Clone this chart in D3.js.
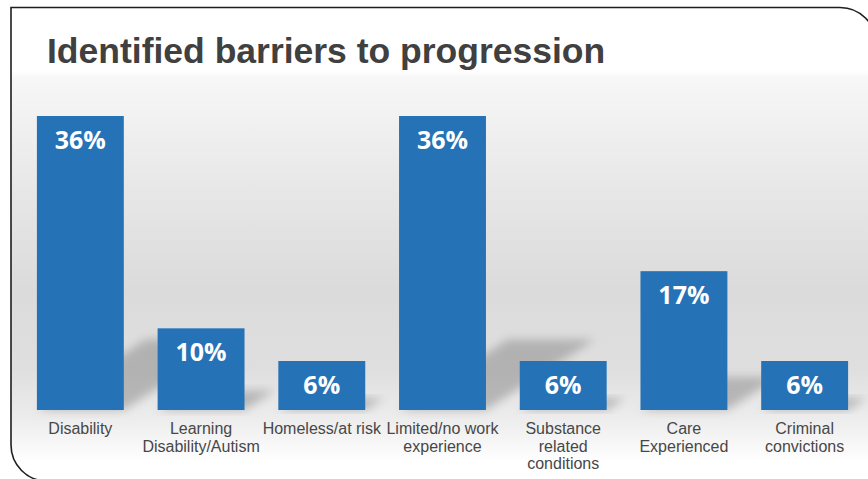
<!DOCTYPE html>
<html>
<head>
<meta charset="utf-8">
<script src="https://cdn.jsdelivr.net/npm/d3@7"></script>
<style>
  html, body { margin: 0; padding: 0; background: #fff; }
  svg { display: block; }
</style>
</head>
<body>
<svg id="chart" width="868" height="479"></svg>
<script>
// chart data
var titleText = "Identified barriers to progression";
var categories = [
  ["Disability"],
  ["Learning", "Disability/Autism"],
  ["Homeless/at risk"],
  ["Limited/no work", "experience"],
  ["Substance", "related", "conditions"],
  ["Care", "Experienced"],
  ["Criminal", "convictions"]
];
var values = [36, 10, 6, 36, 6, 17, 6];

var sansFont = "'Liberation Sans', Arial, sans-serif";

var svg = d3.select("#chart"),
  width = +svg.attr("width"),
  height = +svg.attr("height");

var defs = svg.append("defs");

var bg = defs.append("linearGradient")
  .attr("id", "bg-grad")
  .attr("gradientUnits", "userSpaceOnUse")
  .attr("x1", 0).attr("y1", 8).attr("x2", 0).attr("y2", 479);
[[8, "#ffffff"], [70, "#ffffff"], [78, "#f7f7f7"], [190, "#e7e7e7"],
 [290, "#dbdbdb"], [370, "#dfdfdf"], [420, "#ededed"], [462, "#ffffff"]]
  .forEach(function (s) {
    bg.append("stop")
      .attr("offset", ((s[0] - 8) / 471 * 100) + "%")
      .attr("stop-color", s[1]);
  });

defs.append("filter")
  .attr("id", "shadow-blur")
  .attr("x", "-30%").attr("y", "-30%").attr("width", "160%").attr("height", "160%")
  .append("feGaussianBlur")
  .attr("stdDeviation", 5);

// frame with two rounded corners (top right and bottom left)
var fx = 11, fy = 7.5, fr = 36, fxr = 876, fyb = 481;
var framePath = "M" + fx + "," + fy +
  " H" + (fxr - fr) +
  " A" + fr + "," + fr + " 0 0 1 " + fxr + "," + (fy + fr) +
  " V" + fyb +
  " H" + (fx + fr) +
  " A" + fr + "," + fr + " 0 0 1 " + fx + "," + (fyb - fr) + " Z";

svg.append("path")
  .attr("d", framePath)
  .attr("fill", "url(#bg-grad)");

var x = d3.scaleBand()
  .domain(d3.range(categories.length))
  .range([20, 865])
  .paddingInner(0.28)
  .paddingOuter(0.14);

var y = d3.scaleLinear()
  .domain([0, 36])
  .range([410, 116]);

var g = svg.append("g");

// soft cast shadows behind the bars
g.selectAll(".shadow")
  .data(values)
  .enter().append("path")
  .attr("class", "shadow")
  .attr("d", function (d, i) {
    var x0 = x(i), x1 = x(i) + x.bandwidth(), b = y(0), h = y(0) - y(d);
    var dx = h * 0.37, dy = h * 0.24;
    return "M" + x0 + "," + b + " L" + x1 + "," + b +
      " L" + (x1 + dx) + "," + (b - dy) + " L" + (x0 + dx) + "," + (b - dy) + " Z";
  })
  .attr("fill", "#8e8e8e")
  .attr("opacity", 0.55)
  .attr("filter", "url(#shadow-blur)");

g.selectAll(".bar")
  .data(values)
  .enter().append("rect")
  .attr("class", "bar")
  .attr("x", function (d, i) { return x(i); })
  .attr("y", function (d) { return y(d); })
  .attr("width", x.bandwidth())
  .attr("height", function (d) { return y(0) - y(d); })
  .attr("fill", "#2672b7");

g.selectAll(".value")
  .data(values)
  .enter().append("text")
  .attr("class", "value")
  .attr("x", function (d, i) { return x(i) + x.bandwidth() / 2; })
  .attr("y", function (d) { return y(d) + 33; })
  .attr("text-anchor", "middle")
  .attr("fill", "#ffffff")
  .style("font-family", "'Open Sans', sans-serif")
  .style("font-weight", "bold")
  .style("font-size", "25px")
  .text(function (d) { return d + "%"; });

var labels = g.selectAll(".cat")
  .data(categories)
  .enter().append("text")
  .attr("class", "cat")
  .attr("x", function (d, i) { return x(i) + x.bandwidth() / 2; })
  .attr("y", 434)
  .attr("text-anchor", "middle")
  .attr("fill", "#474747")
  .style("font-family", sansFont)
  .style("font-size", "16px");

labels.selectAll("tspan")
  .data(function (d) { return d; })
  .enter().append("tspan")
  .attr("x", function () { return d3.select(this.parentNode).attr("x"); })
  .attr("dy", function (d, i) { return i === 0 ? 0 : 17.7; })
  .text(function (d) { return d; });

svg.append("text")
  .attr("x", 47)
  .attr("y", 63)
  .attr("fill", "#404040")
  .style("font-family", sansFont)
  .style("font-weight", "bold")
  .style("font-size", "35.5px")
  .text(titleText);

svg.append("path")
  .attr("d", framePath)
  .attr("fill", "none")
  .attr("stroke", "#1e1e1e")
  .attr("stroke-width", 1.6);
</script>
</body>
</html>
